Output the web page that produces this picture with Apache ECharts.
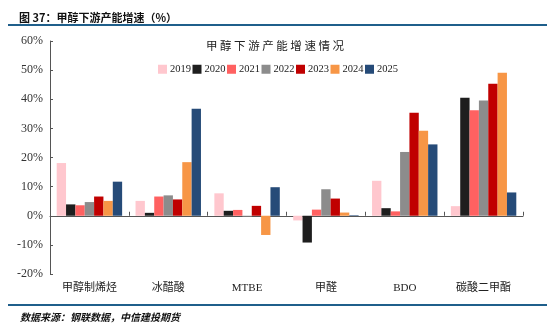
<!DOCTYPE html>
<html><head><meta charset="utf-8">
<script src="https://cdn.jsdelivr.net/npm/echarts@6/dist/echarts.min.js"></script>
<style>html,body{margin:0;padding:0;background:#fff}#c{width:550px;height:323px}</style>
</head><body><div id="c"></div>
<script>
const categories = ['甲醇制烯烃', '冰醋酸', 'MTBE', '甲醛', 'BDO', '碳酸二甲酯'];
const years = ['2019', '2020', '2021', '2022', '2023', '2024', '2025'];
const v2019 = [18.1, 5.1, 7.7, -1.6, 12.0, 3.3];
const v2020 = [3.9, 1.0, 1.7, -9.2, 2.6, 40.5];
const v2021 = [3.6, 6.6, 2.0, 2.1, 1.5, 36.2];
const v2022 = [4.7, 7.0, -0.3, 9.1, 21.9, 39.6];
const v2023 = [6.6, 5.6, 3.4, 5.9, 35.4, 45.3];
const v2024 = [5.1, 18.4, -6.6, 1.1, 29.2, 49.1];
const v2025 = [11.7, 36.7, 9.8, 0.2, 24.5, 8.0];
const yTicks = [-20, -10, 0, 10, 20, 30, 40, 50, 60];

const seriesValues = [v2019, v2020, v2021, v2022, v2023, v2024, v2025];
const colors = ['#FFC7CE', '#1E1E1E', '#FF6161', '#8C8C8C', '#C00000', '#F79646', '#264B78'];
const serif = '"Liberation Serif", "Noto Sans CJK SC", serif';

const chart = echarts.init(document.getElementById('c'));
chart.setOption({
  animation: false,
  backgroundColor: '#fff',
  title: [
    { text: '图 37：甲醇下游产能增速（%）', left: 14, top: 7,
      textStyle: { fontSize: 11, fontWeight: 'bold', color: '#111', fontFamily: '"Noto Sans CJK SC", sans-serif' } },
    { text: '甲 醇 下 游 产 能 增 速 情 况', left: 'center', top: 35,
      textStyle: { fontSize: 11.5, fontWeight: 'normal', color: '#222', fontFamily: '"Noto Sans CJK SC", serif' } },
    { text: '数据来源：钢联数据，中信建投期货', left: 15, top: 307,
      textStyle: { fontSize: 10, fontWeight: 'bold', fontStyle: 'italic', color: '#111', fontFamily: '"Noto Sans CJK SC", sans-serif' } }
  ],
  graphic: [
    { type: 'line', shape: { x1: 8, y1: 25, x2: 547, y2: 25 }, style: { stroke: '#1F5F8B', lineWidth: 2 } },
    { type: 'line', shape: { x1: 8, y1: 305, x2: 547, y2: 305 }, style: { stroke: '#1F5F8B', lineWidth: 2 } }
  ],
  legend: {
    data: years, left: 153, top: 59, itemWidth: 9, itemHeight: 9, itemGap: 1.5,
    icon: 'rect',
    textStyle: { fontSize: 10.5, color: '#222', fontFamily: serif, padding: [0, 0, 0, -2] }
  },
  grid: { left: 50, right: 27, top: 41, bottom: 49 },
  xAxis: [
    { type: 'category', data: categories,
      axisLine: { onZero: true, lineStyle: { color: '#555', width: 1 } },
      axisTick: { show: true, inside: true, length: 4, alignWithLabel: false, lineStyle: { color: '#555' } },
      axisLabel: { show: false } },
    { type: 'category', data: categories, position: 'bottom',
      axisLine: { show: false, onZero: false }, axisTick: { show: false },
      axisLabel: { margin: 9, fontSize: 11, color: '#222', fontFamily: serif } }
  ],
  yAxis: {
    type: 'value', min: -20, max: 60, interval: 10,
    axisLine: { show: true, lineStyle: { color: '#555' } },
    axisTick: { show: true, inside: true, length: 3, lineStyle: { color: '#555' } },
    splitLine: { show: false },
    axisLabel: { margin: 7, fontSize: 12, color: '#333', fontFamily: serif,
      formatter: v => yTicks.includes(v) ? v + '%' : '' }
  },
  series: years.map((y, i) => ({
    name: y, type: 'bar', xAxisIndex: 0, data: seriesValues[i],
    itemStyle: { color: colors[i] },
    barGap: '0%', barCategoryGap: '17%'
  }))
});
</script></body></html>
